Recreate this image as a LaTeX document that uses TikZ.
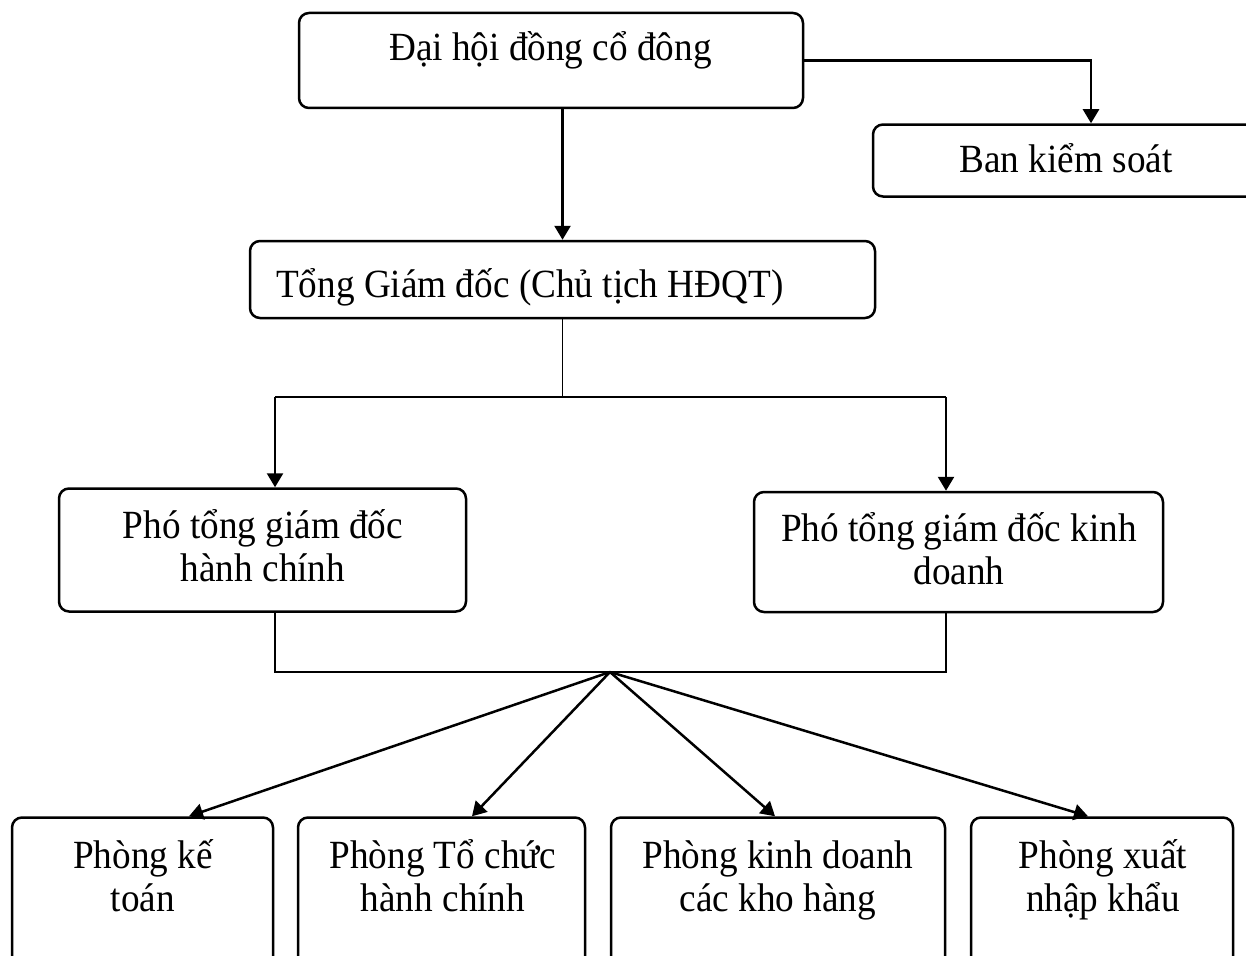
\documentclass[tikz,border=0pt]{standalone}
\usepackage{fontspec}
\setmainfont{Liberation Serif}[FakeStretch=0.93]
\usetikzlibrary{arrows.meta}
\newcommand\orgboxfont{\fontsize{40}{43}\selectfont}
\begin{document}
\begin{tikzpicture}[x=1pt,y=-1pt,
  box/.style={draw, line width=2.5pt, rounded corners=10pt, inner sep=0pt},
  boxtext/.style={font=\orgboxfont, inner sep=0pt, anchor=base},
  twoline/.style={boxtext, text width=420pt, align=flush center},
  link/.style={line width=2.2pt},
  thinlink/.style={line width=1.5pt},
  arr/.style={line width=2.5pt, -{Triangle[length=14pt,width=16pt]}}]
\useasboundingbox (0,0) rectangle (1246,955);
\clip (0,0) rectangle (1246,955);

% boxes
\node[box, minimum width=504pt, minimum height=95pt]  (dh)  at (551,60.5) {};
\node[box, minimum width=390pt, minimum height=72pt]  (bks) at (1068,160.5) {};
\node[box, minimum width=625pt, minimum height=77pt]  (tgd) at (562.5,279.5) {};
\node[box, minimum width=407pt, minimum height=123pt] (phc) at (262.5,550) {};
\node[box, minimum width=409pt, minimum height=120pt] (pkd) at (958.5,552) {};
\node[box, minimum width=261pt, minimum height=200pt] (b1)  at (142.5,917.5) {};
\node[box, minimum width=287pt, minimum height=200pt] (b2)  at (441.5,917.5) {};
\node[box, minimum width=334pt, minimum height=200pt] (b3)  at (778,917.5) {};
\node[box, minimum width=262pt, minimum height=200pt] (b4)  at (1102,917.5) {};

% texts
\node[boxtext] (dht)  at (550.5,61) {Đại hội đồng cổ đông};
\node[boxtext] (bkst) at (1066,172) {Ban kiểm soát};
\node[boxtext, anchor=base west] (tgdt) at (276,297) {Tổng Giám đốc (Chủ tịch HĐQT)};
\node[twoline] (phct) at (263,538) {Phó tổng giám đốc\\hành chính};
\node[twoline] (pkdt) at (959,541) {Phó tổng giám đốc kinh\\doanh};
\node[twoline] (b1t) at (143,868) {Phòng kế\\toán};
\node[twoline] (b2t) at (443,868) {Phòng Tổ chức\\hành chính};
\node[twoline] (b3t) at (778,868) {Phòng kinh doanh\\các kho hàng};
\node[twoline] (b4t) at (1103,868) {Phòng xuất\\nhập khẩu};

% junction points
\coordinate (bk) at (1091,0);
\coordinate (jl) at (275,397);
\coordinate (jr) at (946,397);
\coordinate (ml) at (275,672);
\coordinate (mr) at (946,672);
\coordinate (hub) at (610,672);

% connectors
\draw[arr] (dh.south -| tgd.north) -- (tgd.north);
\draw[arr] (dh.east) -| (bk |- bks.north);
\draw[thinlink] (tgd.south) -- (tgd.south |- jl);
\draw[link] (jl) -- (jr);
\draw[arr] (jl) -- (jl |- phc.north);
\draw[arr] (jr) -- (jr |- pkd.north);
\draw[thinlink] (ml |- phc.south) -- (ml) -- (mr) -- (mr |- pkd.south);
\draw[arr] (hub) -- ([xshift=46.5pt]b1.north);
\draw[arr] (hub) -- ([xshift=30.5pt]b2.north);
\draw[arr] (hub) -- ([xshift=-3pt]b3.north);
\draw[arr] (hub) -- ([xshift=-14pt]b4.north);
\end{tikzpicture}
\end{document}
